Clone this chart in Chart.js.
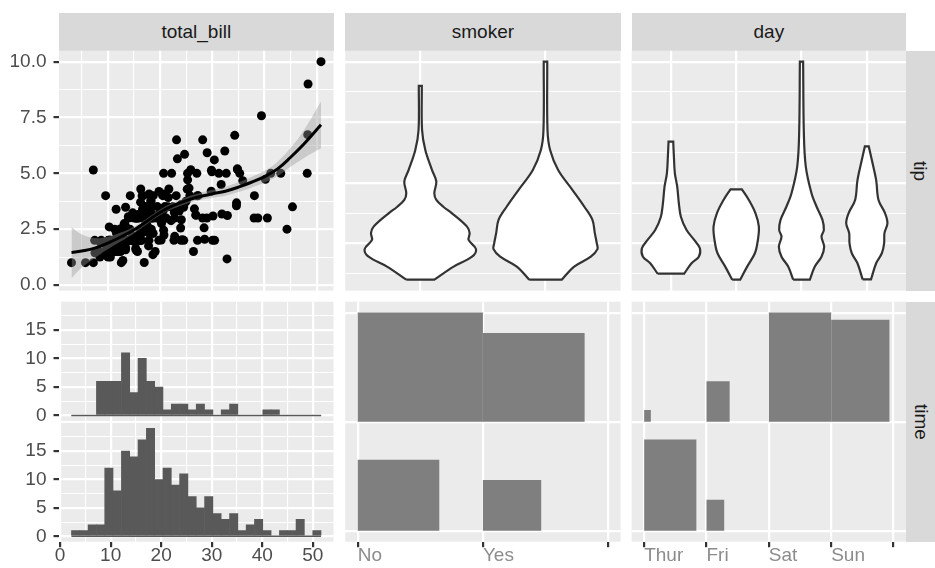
<!DOCTYPE html>
<html>
<head>
<meta charset="utf-8">
<script src="https://cdn.jsdelivr.net/npm/chart.js@4.4.1/dist/chart.umd.min.js"></script>
<style>
  body { margin: 0; background: #fff; }
  #wrap { position: relative; width: 935px; height: 568px; overflow: hidden; font-family: "Liberation Sans", Arial, sans-serif; }
  #wrap canvas { position: absolute; left: 0; top: 0; }
  .strip { position: absolute; background: #D9D9D9; color: #1A1A1A; font-size: 19px; display: flex; align-items: center; justify-content: center; }
  .strip.right span { transform: rotate(90deg); white-space: nowrap; }
</style>
</head>
<body>
<div id="wrap">
  <div class="strip" style="left:59px;top:13px;width:274.5px;height:37.7px">total_bill</div>
  <div class="strip" style="left:345.2px;top:13px;width:275.4px;height:37.7px">smoker</div>
  <div class="strip" style="left:631.7px;top:13px;width:274.3px;height:37.7px">day</div>
  <div class="strip right" style="left:906px;top:50.7px;width:29px;height:239.9px"><span>tip</span></div>
  <div class="strip right" style="left:906px;top:301.7px;width:29px;height:240px"><span>time</span></div>
</div>
<script>
// ---- data ----
const totalBill = [16.99,10.34,21.01,23.68,24.59,25.29,8.77,26.88,15.04,14.78,10.27,35.26,15.42,18.43,14.83,21.58,10.33,16.29,16.97,20.65,
  17.92,20.29,15.77,39.42,19.82,17.81,13.37,12.69,21.70,19.65,9.55,18.35,15.06,20.69,17.78,24.06,16.31,16.93,18.69,31.27,
  16.04,17.46,13.94,9.68,30.40,18.29,22.23,32.40,28.55,18.04,12.54,10.29,34.81,9.94,25.56,19.49,38.01,26.41,11.24,48.27,
  20.29,13.81,11.02,18.29,17.59,20.08,16.45,3.07,20.23,15.01,12.02,17.07,26.86,25.28,14.73,10.51,17.92,27.20,22.76,17.29,
  19.44,16.66,10.07,32.68,15.98,34.83,13.03,18.28,24.71,21.16,28.97,22.49,5.75,16.32,22.75,40.17,27.28,12.03,21.01,12.46,
  11.35,15.38,44.30,22.42,20.92,15.36,20.49,25.21,18.24,14.31,14.00,7.25,38.07,23.95,25.71,17.31,29.93,10.65,12.43,24.08,
  11.69,13.42,14.26,15.95,12.48,29.80,8.52,14.52,11.38,22.82,19.08,20.27,11.17,12.26,18.26,8.51,10.33,14.15,16.00,13.16,
  17.47,34.30,41.19,27.05,16.43,8.35,18.64,11.87,9.78,7.51,14.07,13.13,17.26,24.55,19.77,29.85,48.17,25.00,13.39,16.49,
  21.50,12.66,16.21,13.81,17.51,24.52,20.76,31.71,10.59,10.63,50.81,15.81,7.25,31.85,16.82,32.90,17.89,14.48,9.60,34.63,
  34.65,23.33,45.35,23.17,40.55,20.69,20.90,30.46,18.15,23.10,15.69,19.81,28.44,15.48,16.58,7.56,10.34,43.11,13.00,13.51,
  18.71,12.74,13.00,16.40,20.53,16.47,26.59,38.73,24.27,12.76,30.06,25.89,48.33,13.27,28.17,12.90,28.15,11.59,7.74,30.14,
  12.16,13.42,8.58,15.98,13.42,16.27,10.09,20.45,13.28,22.12,24.01,15.69,11.61,10.77,15.53,10.07,12.60,32.83,35.83,29.03,
  27.18,22.67,17.82,18.78];
const tipAmount = [1.01,1.66,3.50,3.31,3.61,4.71,2.00,3.12,1.96,3.23,1.71,5.00,1.57,3.00,3.02,3.92,1.67,3.71,3.50,3.35,
  4.08,2.75,2.23,7.58,3.18,2.34,2.00,2.00,4.30,3.00,1.45,2.50,3.00,2.45,3.27,3.60,2.00,3.07,2.31,5.00,
  2.24,2.54,3.06,1.32,5.60,3.00,5.00,6.00,2.05,3.00,2.50,2.60,5.20,1.56,4.34,3.51,3.00,1.50,1.76,6.73,
  3.21,2.00,1.98,3.76,2.64,3.15,2.47,1.00,2.01,2.09,1.97,3.00,3.14,5.00,2.20,1.25,3.08,4.00,3.00,2.71,
  3.00,3.40,1.83,5.00,2.03,5.17,2.00,4.00,5.85,3.00,3.00,3.50,1.00,4.30,3.25,4.73,4.00,1.50,3.00,1.50,
  2.50,3.00,2.50,3.48,4.08,1.64,4.06,4.29,3.76,4.00,3.00,1.00,4.00,2.55,4.00,3.50,5.07,1.50,1.80,2.92,
  2.31,1.68,2.50,2.00,2.52,4.20,1.48,2.00,2.00,2.18,1.50,2.83,1.50,2.00,3.25,1.25,2.00,2.00,2.00,2.75,
  3.50,6.70,5.00,5.00,2.30,1.50,1.36,1.63,1.73,2.00,2.50,2.00,2.74,2.00,2.00,5.14,5.00,3.75,2.61,2.00,
  3.50,2.50,2.00,2.00,3.00,3.48,2.24,4.50,1.61,2.00,10.00,3.16,5.15,3.18,4.00,3.11,2.00,2.00,4.00,3.55,
  3.68,5.65,3.50,6.50,3.00,5.00,3.50,2.00,3.50,4.00,1.50,4.19,2.56,2.02,4.00,1.44,2.00,5.00,2.00,2.00,
  4.00,2.01,2.00,2.50,4.00,3.23,3.41,3.00,2.03,2.23,2.00,5.16,9.00,2.50,6.50,1.10,3.00,1.50,1.44,3.09,
  2.20,3.48,1.92,3.00,1.58,2.50,2.00,3.00,2.72,2.88,2.00,3.00,3.39,1.47,3.00,1.25,1.00,1.17,4.67,5.92,
  2.00,2.00,1.75,3.00];

// loess fit of tip on total_bill
const smoothX   = [3.07, 5, 7.5, 10, 12.5, 15, 17.5, 20, 22.5, 25, 27.5, 30, 32.5, 35, 37.5, 40, 42.5, 45, 47.5, 50.81];
const smoothFit = [1.45, 1.52, 1.65, 1.88, 2.15, 2.46, 2.85, 3.25, 3.55, 3.78, 3.95, 4.08, 4.2, 4.38, 4.6, 4.85, 5.2, 5.72, 6.3, 7.17];
const smoothSe  = [1.15, 0.75, 0.45, 0.28, 0.2, 0.15, 0.13, 0.13, 0.14, 0.15, 0.16, 0.17, 0.2, 0.22, 0.24, 0.26, 0.32, 0.42, 0.62, 1.05];

// histogram of total_bill by time (30 bins)
const binMids = [3.07, 4.72, 6.36, 8.01, 9.65, 11.30, 12.95, 14.59, 16.24, 17.89, 19.53, 21.18, 22.82, 24.47, 26.12,
  27.76, 29.41, 31.05, 32.70, 34.35, 35.99, 37.64, 39.28, 40.93, 42.58, 44.22, 45.87, 47.51, 49.16, 50.81];
const lunchCounts  = [0, 0, 0, 6, 6, 6, 11, 4, 10, 6, 5, 1, 2, 2, 1, 2, 1, 0, 1, 2, 0, 0, 0, 1, 1, 0, 0, 0, 0, 0];
const dinnerCounts = [1, 1, 2, 2, 12, 8, 15, 14, 17, 19, 10, 12, 9, 11, 7, 5, 7, 4, 3, 4, 1, 2, 3, 1, 0, 1, 1, 3, 0, 1];

// counts for the two discrete pairs
const smokerLevels = ['No', 'Yes'];
const dayLevels = ['Thur', 'Fri', 'Sat', 'Sun'];
const smokerLunch = [45, 23];
const smokerDinner = [106, 70];
const dayLunch = [61, 7, 0, 0];
const dayDinner = [1, 12, 87, 76];

// violin outlines: tip level and half width (in category units)
const noTip   = [1.0, 1.54, 1.95, 2.26, 2.64, 2.92, 3.19, 3.74, 4.0, 4.29, 4.57, 5.05, 5.53, 6.35, 7.18, 9.0];
const noHalf  = [0.112, 0.266, 0.413, 0.445, 0.386, 0.394, 0.373, 0.253, 0.186, 0.128, 0.112, 0.128, 0.093, 0.04, 0.014, 0.012];
const yesTip  = [1.0, 1.54, 1.95, 2.26, 2.5, 2.92, 3.47, 4.02, 4.7, 5.53, 6.35, 7.18, 10.0];
const yesHalf = [0.13, 0.229, 0.362, 0.415, 0.41, 0.394, 0.375, 0.309, 0.216, 0.101, 0.037, 0.016, 0.014];
const thurTip  = [1.25, 1.68, 1.95, 2.3, 2.64, 3.05, 3.6, 4.15, 4.84, 5.39, 6.08, 6.7];
const thurHalf = [0.204, 0.316, 0.428, 0.444, 0.357, 0.24, 0.153, 0.122, 0.097, 0.061, 0.046, 0.036];
const friTip  = [1.0, 1.54, 2.09, 2.64, 3.19, 3.74, 4.29, 4.73];
const friHalf = [0.061, 0.168, 0.286, 0.332, 0.347, 0.296, 0.194, 0.087];
const satTip  = [1.0, 1.54, 1.95, 2.36, 2.78, 3.05, 3.47, 4.02, 4.57, 5.66, 7.04, 10.0];
const satHalf = [0.128, 0.204, 0.306, 0.347, 0.306, 0.342, 0.321, 0.23, 0.153, 0.066, 0.036, 0.025];
const sunTip  = [1.01, 1.68, 2.09, 2.5, 2.92, 3.33, 3.74, 4.29, 5.11, 5.94, 6.5];
const sunHalf = [0.064, 0.143, 0.23, 0.265, 0.27, 0.316, 0.28, 0.179, 0.143, 0.077, 0.03];

// ---- layout (page pixels) ----
const W = 935, H = 568;
const colL = [59, 345.2, 631.7];
const colR = [333.5, 620.6, 906];
const rowT = [50.7, 301.7];
const rowB = [290.6, 541.7];
const histGap = [420.9, 423];
const leftAxisW = 59;
const bottomAxisH = H - rowB[1];

Chart.defaults.font.family = "'Liberation Sans', Arial, Helvetica, sans-serif";
Chart.defaults.font.size = 19;
Chart.defaults.color = '#4D4D4D';

const panelBg = {
  id: 'panelBg',
  beforeDraw(chart) {
    const a = chart.chartArea, c = chart.ctx;
    c.save();
    c.fillStyle = '#EBEBEB';
    c.fillRect(a.left, a.top, a.right - a.left, a.bottom - a.top);
    c.restore();
  }
};

// fills closed line paths (violins, count squares)
const shapeFill = {
  id: 'shapeFill',
  beforeDatasetDraw(chart, args) {
    const ds = chart.data.datasets[args.index];
    if (!ds.shapeColor) return;
    const line = args.meta.dataset;
    const a = chart.chartArea, c = chart.ctx;
    line.updateControlPoints(a, 'x');
    c.save();
    c.beginPath();
    c.rect(a.left, a.top, a.right - a.left, a.bottom - a.top);
    c.clip();
    c.beginPath();
    line.path(c);
    c.closePath();
    c.fillStyle = ds.shapeColor;
    c.fill();
    c.restore();
  }
};

function makeAxis(o) {
  const isMajor = v => o.majors.some(m => Math.abs(m - v) < 1e-9);
  const show = !!o.labels;
  return {
    type: 'linear',
    min: o.min,
    max: o.max,
    offset: false,
    position: o.horizontal ? 'bottom' : 'left',
    border: { display: false },
    grid: {
      offset: false,
      color: '#FFFFFF',
      lineWidth: c => (c.tick && isMajor(c.tick.value)) ? 2.2 : 1.1,
      drawTicks: show,
      tickLength: 5.5,
      tickWidth: 2.2,
      tickColor: c => (c.tick && isMajor(c.tick.value)) ? '#333333' : 'rgba(0,0,0,0)'
    },
    ticks: {
      display: show,
      autoSkip: false,
      maxRotation: 0,
      minRotation: 0,
      padding: o.horizontal ? -3 : 7,
      align: o.align || 'center',
      color: o.color || '#4D4D4D',
      callback: (v, i) => show ? o.labels(v, i) : ''
    },
    afterBuildTicks: s => { s.ticks = o.ticks.map(v => ({ value: v })); },
    afterFit: s => {
      if (o.horizontal) s.height = show ? bottomAxisH : 0;
      else s.width = show ? leftAxisW : 0;
    }
  };
}

function addChart(cfg, box) {
  const cv = document.createElement('canvas');
  cv.width = W;
  cv.height = H;
  document.getElementById('wrap').appendChild(cv);
  cfg.options = Object.assign({
    responsive: false,
    animation: false,
    devicePixelRatio: 1,
    events: [],
    layout: { padding: box },
    plugins: { legend: { display: false }, tooltip: { enabled: false } }
  }, cfg.options);
  cfg.plugins = [panelBg, shapeFill];
  return new Chart(cv, cfg);
}

// padding so that the chart area lands on the panel rectangle
function pad(l, t, r, b, yLab, xLab) {
  return {
    left: yLab ? l - leftAxisW : l,
    top: t,
    right: W - r,
    bottom: xLab ? H - b - bottomAxisH : H - b
  };
}

// outline goes up the left side and down the right one; the corner points are
// doubled so the trimmed top and bottom stay flat under the spline
function violin(center, tips, halves) {
  const left = tips.map((t, i) => ({ x: center - halves[i], y: t }));
  const right = tips.map((t, i) => ({ x: center + halves[i], y: t })).reverse();
  const k = left.length - 1;
  const pts = [left[0]].concat(left, [left[k]], [right[0]], right, [right[k]], [left[0]]);
  return {
    data: pts,
    borderColor: '#333333',
    borderWidth: 2.2,
    pointRadius: 0,
    tension: 0.35,
    fill: false,
    shapeColor: '#FFFFFF'
  };
}

function countSquares(counts, yLevel, maxCount) {
  const out = [];
  counts.forEach((n, i) => {
    if (!n) return;
    const s = Math.sqrt(n / maxCount);
    const x0 = i + 1;
    out.push({
      data: [{ x: x0, y: yLevel }, { x: x0, y: yLevel + s }, { x: x0 + s, y: yLevel + s }, { x: x0 + s, y: yLevel }, { x: x0, y: yLevel }],
      borderWidth: 0,
      pointRadius: 0,
      tension: 0,
      fill: false,
      shapeColor: '#7F7F7F'
    });
  });
  return out;
}

const step = (a, b, d) => { const r = []; for (let v = a; v <= b + 1e-9; v += d) r.push(+v.toFixed(4)); return r; };

// ---- tip vs total_bill: points + loess ----
addChart({
  type: 'line',
  data: {
    datasets: [
      { data: smoothX.map((x, i) => ({ x, y: smoothFit[i] })), borderColor: '#000000', borderWidth: 3, pointRadius: 0, tension: 0.4, fill: false },
      { data: smoothX.map((x, i) => ({ x, y: smoothFit[i] + smoothSe[i] })), borderWidth: 0, pointRadius: 0, tension: 0.4,
        fill: '+1', backgroundColor: 'rgba(153,153,153,0.4)' },
      { data: smoothX.map((x, i) => ({ x, y: smoothFit[i] - smoothSe[i] })), borderWidth: 0, pointRadius: 0, tension: 0.4, fill: false },
      { data: totalBill.map((x, i) => ({ x, y: tipAmount[i] })), showLine: false, pointRadius: 4.5,
        pointBackgroundColor: '#000000', pointBorderWidth: 0 }
    ]
  },
  options: {
    scales: {
      x: makeAxis({ horizontal: true, min: 0.68, max: 53.2, ticks: step(5, 50, 5), majors: step(10, 50, 10) }),
      y: makeAxis({ min: -0.25, max: 10.49, ticks: step(0, 10, 1.25), majors: step(0, 10, 2.5), labels: v => (v % 2.5 === 0 ? v.toFixed(1) : '') })
    }
  }
}, pad(colL[0], rowT[0], colR[0], rowB[0], true, false));

// ---- histograms of total_bill, one per time ----
function histChart(counts, top, bottom, xLab) {
  const bw = binMids[1] - binMids[0];
  addChart({
    type: 'bar',
    data: {
      datasets: [
        { type: 'line', data: [{ x: binMids[0] - bw / 2, y: 0 }, { x: binMids[binMids.length - 1] + bw / 2, y: 0 }],
          borderColor: '#595959', borderWidth: 1.5, pointRadius: 0 },
        { data: binMids.map((x, i) => ({ x, y: counts[i] })), backgroundColor: '#595959',
          barPercentage: 1, categoryPercentage: 1, borderWidth: 0 }
      ]
    },
    options: {
      scales: {
        x: makeAxis({ horizontal: true, min: -0.22, max: 54.1, ticks: step(0, 50, 5), majors: step(0, 50, 10),
          labels: xLab ? (v => (v % 10 === 0 ? String(v) : '')) : null }),
        y: makeAxis({ min: -0.95, max: 19.95, ticks: step(0, 17.5, 2.5), majors: step(0, 15, 5), labels: v => (v % 5 === 0 ? String(v) : '') })
      }
    }
  }, pad(colL[0], top, colR[0], bottom, true, xLab));
}
histChart(lunchCounts, rowT[1], histGap[0], false);
histChart(dinnerCounts, histGap[1], rowB[1], true);

// ---- tip violins by smoker and by day ----
addChart({
  type: 'line',
  data: { datasets: [violin(1, noTip, noHalf), violin(2, yesTip, yesHalf)] },
  options: {
    scales: {
      x: makeAxis({ horizontal: true, min: 0.4, max: 2.6, ticks: [1, 2], majors: [1, 2] }),
      y: makeAxis({ min: 0.55, max: 10.45, ticks: step(1.25, 10, 1.25), majors: step(2.5, 10, 2.5) })
    }
  }
}, pad(colL[1], rowT[0], colR[1], rowB[0], false, false));

addChart({
  type: 'line',
  data: { datasets: [violin(1, thurTip, thurHalf), violin(2, friTip, friHalf), violin(3, satTip, satHalf), violin(4, sunTip, sunHalf)] },
  options: {
    scales: {
      x: makeAxis({ horizontal: true, min: 0.4, max: 4.6, ticks: [1, 2, 3, 4], majors: [1, 2, 3, 4] }),
      y: makeAxis({ min: 0.55, max: 10.45, ticks: step(1.25, 10, 1.25), majors: step(2.5, 10, 2.5) })
    }
  }
}, pad(colL[2], rowT[0], colR[2], rowB[0], false, false));

// ---- counts of time by smoker and by day ----
const smokerMax = Math.max(...smokerLunch, ...smokerDinner);
addChart({
  type: 'line',
  data: { datasets: countSquares(smokerDinner, 2, smokerMax).concat(countSquares(smokerLunch, 1, smokerMax)) },
  options: {
    scales: {
      x: makeAxis({ horizontal: true, min: 0.9, max: 3.1, ticks: [1, 2, 3], majors: [1, 2, 3], align: 'start', color: '#8C8C8C',
        labels: (v, i) => smokerLevels[i] || '' }),
      y: makeAxis({ min: 0.9, max: 3.1, ticks: [1, 2, 3], majors: [1, 2, 3] })
    }
  }
}, pad(colL[1], rowT[1], colR[1], rowB[1], false, true));

const dayMax = Math.max(...dayLunch, ...dayDinner);
addChart({
  type: 'line',
  data: { datasets: countSquares(dayDinner, 2, dayMax).concat(countSquares(dayLunch, 1, dayMax)) },
  options: {
    scales: {
      x: makeAxis({ horizontal: true, min: 0.8, max: 5.2, ticks: [1, 2, 3, 4, 5], majors: [1, 2, 3, 4, 5], align: 'start', color: '#8C8C8C',
        labels: (v, i) => dayLevels[i] || '' }),
      y: makeAxis({ min: 0.9, max: 3.1, ticks: [1, 2, 3], majors: [1, 2, 3] })
    }
  }
}, pad(colL[2], rowT[1], colR[2], rowB[1], false, true));
</script>
</body>
</html>
